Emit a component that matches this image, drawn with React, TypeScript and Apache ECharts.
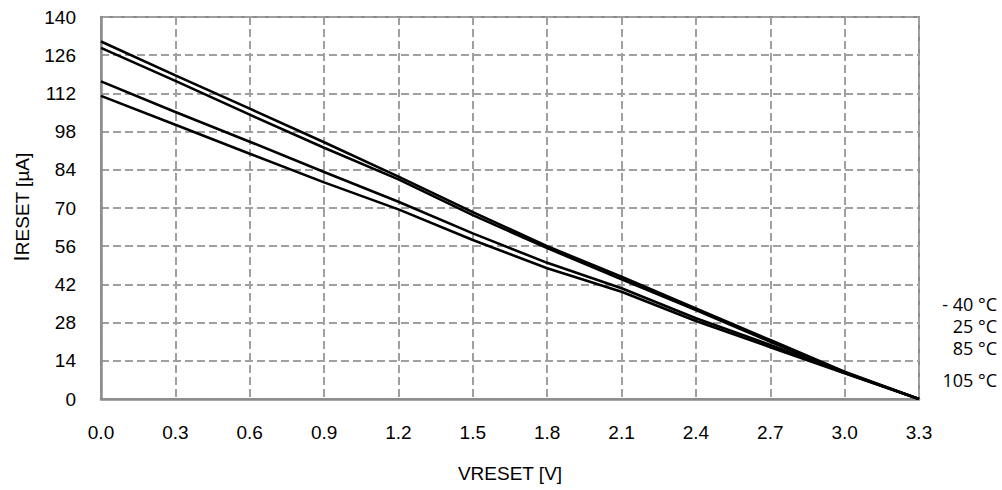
import React, { useEffect, useRef } from "react";
import * as echarts from "echarts";

const voltages = [0, 0.3, 0.6, 0.9, 1.2, 1.5, 1.8, 2.1, 2.4, 2.7, 3.0, 3.3];
const iMinus40 = [131, 118.6, 106.4, 94.1, 81.5, 68.5, 56, 44.8, 33.2, 21.6, 10, 0];
const i25 = [128.7, 116.6, 104.2, 92.1, 80.5, 67.4, 55.3, 43.9, 32.6, 21, 9.7, 0];
const i85 = [116.4, 105.2, 94.3, 83.2, 72.3, 60.7, 49.9, 40.6, 29.6, 19.8, 9.6, 0];
const i105 = [111.1, 100.5, 89.9, 79.4, 69.5, 58.3, 47.9, 39.3, 28.6, 19, 9.4, 0];
const temperatureLabels = ["- 40 °C", "25 °C", "85 °C", "105 °C"];
const seriesValues = [iMinus40, i25, i85, i105];

const FONT = "'Liberation Sans', Arial, sans-serif";

export default function App() {
  const ref = useRef<HTMLDivElement>(null);
  useEffect(() => {
    if (!ref.current) return;
    const chart = echarts.init(ref.current, undefined, { renderer: "svg" });
    const legendY = [304, 326, 348, 380];
    chart.setOption({
      animation: false,
      backgroundColor: "#ffffff",
      grid: {
        left: 101,
        right: 83,
        top: 17,
        bottom: 91,
        show: true,
        borderColor: "#8c8c8c",
        borderWidth: 2,
      },
      xAxis: {
        type: "value",
        min: 0,
        max: 3.3,
        interval: 0.3,
        axisLine: { show: true, lineStyle: { color: "#8c8c8c", width: 2.5 } },
        axisTick: { show: false },
        axisLabel: {
          color: "#000",
          fontFamily: FONT,
          fontSize: 19,
          margin: 24,
          formatter: (v: number) => v.toFixed(1),
        },
        splitLine: {
          show: true,
          lineStyle: { color: "#a0a0a0", width: 2, type: [8, 4] },
        },
      },
      yAxis: {
        type: "value",
        min: 0,
        max: 140,
        interval: 14,
        axisLine: { show: true, lineStyle: { color: "#8c8c8c", width: 2.5 } },
        axisTick: { show: false },
        axisLabel: {
          color: "#000",
          fontFamily: FONT,
          fontSize: 19,
          margin: 25,
        },
        splitLine: {
          show: true,
          lineStyle: { color: "#a0a0a0", width: 2, type: [8, 4] },
        },
      },
      series: seriesValues.map((vals, k) => ({
        name: temperatureLabels[k],
        type: "line",
        data: voltages.map((v, i) => [v, vals[i]]),
        showSymbol: false,
        symbol: "none",
        lineStyle: { color: "#000", width: 2.6 },
        z: 5,
      })),
      graphic: [
        ...temperatureLabels.map((t, k) => ({
          type: "text",
          x: 997,
          y: legendY[k],
          style: {
            text: t,
            fill: "#000",
            font: "18px 'Open Sans', sans-serif",
            lineHeight: 18,
            align: "right",
            verticalAlign: "middle",
          },
        })),
        {
          type: "text",
          x: 510,
          y: 473,
          style: {
            text: "VRESET [V]",
            fill: "#000",
            font: `19px ${FONT}`,
            align: "center",
            verticalAlign: "middle",
          },
        },
        {
          type: "text",
          x: 21,
          y: 207,
          rotation: Math.PI / 2,
          style: {
            text: "{a|I}{b|RESET [µA]}",
            align: "center",
            verticalAlign: "middle",
            rich: {
              a: { fontSize: 22, fontFamily: FONT, fill: "#000", verticalAlign: "bottom" },
              b: { fontSize: 19, fontFamily: FONT, fill: "#000", verticalAlign: "bottom", padding: [3, 0, 0, 0] },
            },
          },
        },
      ],
    });
    return () => chart.dispose();
  }, []);
  return <div ref={ref} style={{ width: 1002, height: 490, position: "absolute", left: 0, top: 0 }} />;
}
